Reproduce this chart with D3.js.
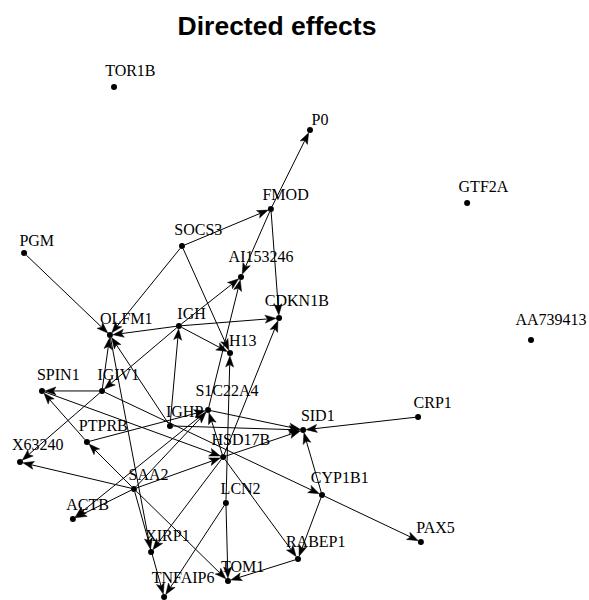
<!DOCTYPE html>
<html>
<head>
<meta charset="utf-8">
<script src="https://cdn.jsdelivr.net/npm/d3@7"></script>
<style>
  html, body { margin: 0; padding: 0; background: #fff; }
  svg { display: block; }
  .lbl { font-family: "Liberation Serif", "Times New Roman", "DejaVu Serif", serif; font-size: 16px; }
  .ttl { font-family: "Liberation Sans", Arial, Helvetica, sans-serif; font-weight: bold; font-size: 26.5px; }
</style>
</head>
<body>
<svg id="chart" width="589" height="600"></svg>
<script>
// ---- data ----
const nodeNames = ["TOR1B","P0","GTF2A","FMOD","SOCS3","PGM","AI153246","CDKN1B","AA739413","OLFM1",
  "IGH","H13","SPIN1","IGIV1","S1C22A4","CRP1","IGHP","SID1","PTPRB","HSD17B",
  "X63240","SAA2","CYP1B1","LCN2","ACTB","PAX5","XIRP1","RABEP1","TOM1","TNFAIP6"];
const layoutX = [-0.632, 0.135, 0.750, -0.018, -0.366, -0.984, -0.135, 0.014, 1.000, -0.648,
  -0.378, -0.178, -0.914, -0.679, -0.264, 0.558, -0.413, 0.108, -0.738, -0.205,
  -1.000, -0.554, 0.182, -0.194, -0.793, 0.569, -0.487, 0.088, -0.186, -0.436];
const layoutY = [1.000, 0.831, 0.545, 0.522, 0.376, 0.349, 0.255, 0.094, 0.008, 0.027,
  0.063, -0.043, -0.192, -0.192, -0.267, -0.294, -0.329, -0.345, -0.392, -0.451,
  -0.471, -0.576, -0.600, -0.631, -0.694, -0.784, -0.824, -0.851, -0.937, -1.000];
const edgeFrom = ["FMOD","SOCS3","FMOD","FMOD","SOCS3","SOCS3","PGM","IGH","IGH","IGH",
  "IGH","IGH","IGIV1","IGHP","S1C22A4","LCN2","HSD17B","IGIV1","PTPRB","SAA2",
  "SAA2","SAA2","S1C22A4","SAA2","PTPRB","IGHP","S1C22A4","HSD17B","CRP1","CYP1B1",
  "IGIV1","CYP1B1","CYP1B1","HSD17B","RABEP1","LCN2","SAA2","SAA2","HSD17B","OLFM1",
  "SAA2","LCN2","IGIV1","IGHP","HSD17B","SPIN1"];
const edgeTo = ["P0","FMOD","AI153246","CDKN1B","OLFM1","H13","OLFM1","OLFM1","CDKN1B","AI153246",
  "H13","IGIV1","X63240","IGH","AI153246","H13","CDKN1B","SPIN1","SPIN1","PTPRB",
  "X63240","ACTB","ACTB","S1C22A4","S1C22A4","SID1","SID1","SID1","SID1","SID1",
  "CYP1B1","PAX5","RABEP1","RABEP1","TOM1","TOM1","TOM1","HSD17B","XIRP1","XIRP1",
  "TNFAIP6","TNFAIP6","OLFM1","OLFM1","S1C22A4","HSD17B"];
const titleText = "Directed effects";

// ---- drawing ----
const svg = d3.select("#chart");
const x = d3.scaleLinear().domain([-1, 1]).range([20, 531]);
const y = d3.scaleLinear().domain([-1, 1]).range([597, 87]);

const nodes = nodeNames.map((n, i) => ({ name: n, px: x(layoutX[i]), py: y(layoutY[i]) }));
const byName = new Map(nodes.map(n => [n.name, n]));
const edges = edgeFrom.map((f, i) => ({ s: byName.get(f), t: byName.get(edgeTo[i]) }));

svg.append("text")
  .attr("class", "ttl")
  .attr("x", 277).attr("y", 35)
  .attr("text-anchor", "middle")
  .text(titleText);

const R = 3, L = 11, W = 8, N = 8.5;
const g = svg.append("g");
edges.forEach(e => {
  const dx = e.t.px - e.s.px, dy = e.t.py - e.s.py;
  const len = Math.hypot(dx, dy);
  const ux = dx / len, uy = dy / len;
  const x0 = e.s.px + ux * R, y0 = e.s.py + uy * R;
  const tx = e.t.px - ux * R, ty = e.t.py - uy * R;
  const nx = tx - ux * N, ny = ty - uy * N;
  g.append("line")
    .attr("x1", x0).attr("y1", y0).attr("x2", nx).attr("y2", ny)
    .attr("stroke", "#000").attr("stroke-width", 1);
  const bx = tx - ux * L, by = ty - uy * L;
  const px = -uy, py = ux;
  const pts = [[tx, ty], [bx + px * W / 2, by + py * W / 2], [nx, ny], [bx - px * W / 2, by - py * W / 2]];
  g.append("path")
    .attr("d", "M" + pts.map(p => p.join(",")).join("L") + "Z")
    .attr("fill", "#000").attr("stroke", "#000").attr("stroke-width", 0.5);
});

svg.append("g").selectAll("circle").data(nodes).join("circle")
  .attr("cx", d => d.px).attr("cy", d => d.py).attr("r", R)
  .attr("fill", "#000");

svg.append("g").selectAll("text").data(nodes).join("text")
  .attr("class", "lbl")
  .attr("x", d => d.px + 21 * Math.log10(d.name.length + 1))
  .attr("y", d => d.py - 21 * Math.log10(d.name.length + 1) + 5.3)
  .attr("text-anchor", "middle")
  .text(d => d.name);
</script>
</body>
</html>
